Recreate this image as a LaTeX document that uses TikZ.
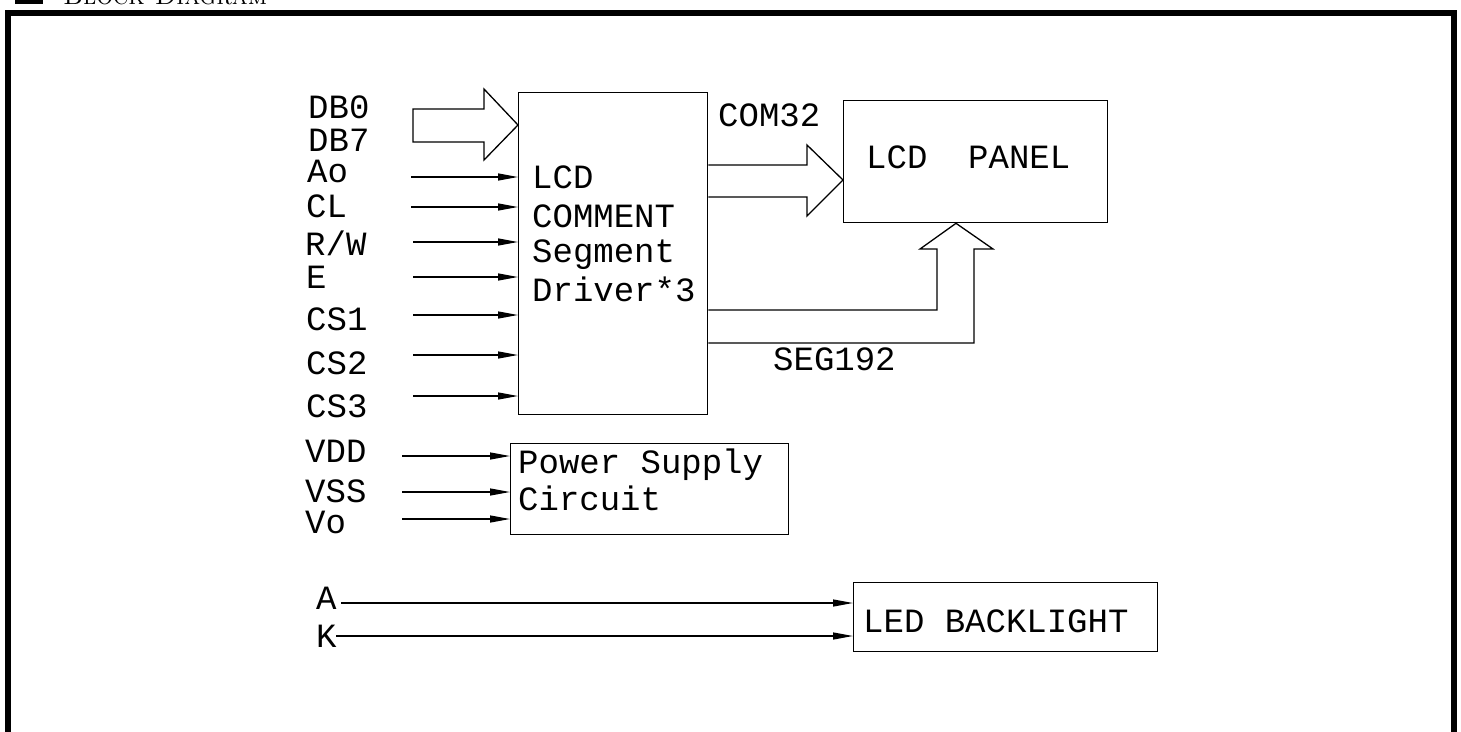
\documentclass[tikz,border=0pt]{standalone}
\usepackage{fontspec}
\setmonofont{Liberation Mono}
\usetikzlibrary{arrows.meta}
\tikzset{
  cad/.style={font=\ttfamily\fontsize{34}{38}\selectfont, inner sep=0pt},
  lbl/.style={cad, anchor=base west},
  blk/.style={draw, line width=1.3pt, inner sep=0pt, anchor=north west},
  sig/.style={line width=1.3pt, -{Triangle[length=20pt,width=7pt]}},
  bus/.style={draw, line width=1.3pt, line join=miter},
  frame/.style={line width=6pt, line join=miter}
}
\begin{document}
\begin{tikzpicture}[x=1pt,y=-1pt]
\useasboundingbox (0,0) rectangle (1461,731);
\clip (0,0) rectangle (1461,731);
% header
\fill (15,-20) rectangle (43,4);
\node[anchor=base west, inner sep=0pt, font=\fontsize{26}{26}\selectfont] (hdr) at (63,4) {\textsc{Block Diagram}};
% frame
\draw[frame] (8,740) -- (8,13) -- (1454,13) -- (1454,740);
% blocks
\node[blk, minimum width=189pt, minimum height=322pt] (drv) at (518,92) {};
\node[blk, minimum width=264pt, minimum height=122pt] (panel) at (843,100) {};
\node[blk, minimum width=278pt, minimum height=91pt] (psu) at (510,443) {};
\node[blk, minimum width=304pt, minimum height=69pt] (led) at (853,582) {};
% block texts
\node[lbl] (d1) at (532,188) {LCD};
\node[lbl] (d2) at (532,227) {COMMENT};
\node[lbl] (d3) at (532,262) {Segment};
\node[lbl] (d4) at (532,301) {Driver*3};
\node[lbl] (p1) at (866,168) {LCD\ \ PANEL};
\node[lbl] (s1) at (518,473) {Power Supply};
\node[lbl] (s2) at (518,510) {Circuit};
\node[lbl] (l1) at (863,632) {LED BACKLIGHT};
% bus labels
\node[lbl] (com) at (718,126) {COM32};
\node[lbl] (seg) at (773,370) {SEG192};
% input labels
\node[lbl] (ldb0) at (308,118) {DB0};
\node[lbl] (ldb7) at (308,151) {DB7};
\node[lbl] (lao) at (307,182) {Ao};
\node[lbl] (lcl) at (306,217) {CL};
\node[lbl] (lrw) at (305,255) {R/W};
\node[lbl] (le) at (306,288) {E};
\node[lbl] (lcs1) at (306,330) {CS1};
\node[lbl] (lcs2) at (306,374) {CS2};
\node[lbl] (lcs3) at (306,417) {CS3};
\node[lbl] (lvdd) at (305,462) {VDD};
\node[lbl] (lvss) at (305,502) {VSS};
\node[lbl] (lvo) at (305,533) {Vo};
\node[lbl] (la) at (316,609) {A};
\node[lbl] (lk) at (316,647) {K};
% signal start points
\coordinate (iao) at (411,177);
\coordinate (icl) at (411,207);
\coordinate (irw) at (413,242);
\coordinate (ie) at (413,277);
\coordinate (ics1) at (413,315);
\coordinate (ics2) at (413,355);
\coordinate (ics3) at (413,396);
\coordinate (ivdd) at (402,456);
\coordinate (ivss) at (402,492);
\coordinate (ivo) at (402,519);
\coordinate (ia) at (341,603);
\coordinate (ik) at (336,636);
% signal arrows
\foreach \c in {iao,icl,irw,ie,ics1,ics2,ics3}
  \draw[sig] (\c) -- (\c -| drv.west);
\foreach \c in {ivdd,ivss,ivo}
  \draw[sig] (\c) -- (\c -| psu.west);
\foreach \c in {ia,ik}
  \draw[sig] (\c) -- (\c -| led.west);
% DB bus arrow
\draw[bus] (413,109) -- (484,109) -- (484,89) -- (drv.west |- {(0,125)}) -- (484,160) -- (484,142) -- (413,142) -- cycle;
% COM32 bus arrow
\draw[bus] (drv.east |- {(0,165)}) -- (807,165) -- (807,145) -- (panel.west |- {(0,180)}) -- (807,216) -- (807,197) -- (drv.east |- {(0,197)});
% SEG192 bus arrow
\draw[bus] (drv.east |- {(0,310)}) -- (937,310) -- (937,249) -- (920,249) -- (panel.south -| {(956,0)}) -- (993,249) -- (974,249) -- (974,343) -- (drv.east |- {(0,343)});
\end{tikzpicture}
\end{document}
